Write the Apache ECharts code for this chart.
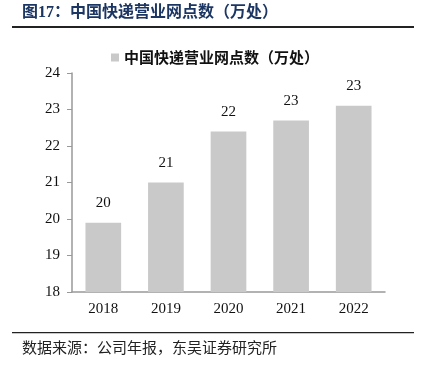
<!DOCTYPE html>
<html><head><meta charset="utf-8">
<script src="https://cdn.jsdelivr.net/npm/echarts@6/dist/echarts.min.js"></script>
<style>html,body{margin:0;padding:0;background:#fff}#c{width:423px;height:370px}</style>
</head><body><div id="c"></div>
<script>
const categories = ['2018','2019','2020','2021','2022'];
const values = [19.9, 21.0, 22.4, 22.7, 23.1];
const yTicks = [18, 19, 20, 21, 22, 23, 24];
const seriesName = '中国快递营业网点数（万处）';
const titleText = '图17：中国快递营业网点数（万处）';
const sourceText = '数据来源：公司年报，东吴证券研究所';

const chart = echarts.init(document.getElementById('c'));
chart.setOption({
  animation: false,
  backgroundColor: '#fff',
  graphic: [
    {type:'text', left: 22, top: 5, style:{text: titleText, font:'bold 16px "Liberation Serif","Noto Sans CJK SC"', fill:'#1c3663'}},
    {type:'rect', shape:{x:12, y:26, width:402, height:2}, style:{fill:'#222'}},
    {type:'rect', shape:{x:12, y:332, width:402, height:1.2}, style:{fill:'#222'}},
    {type:'text', left: 22, top: 340, style:{text: sourceText, font:'15px "Noto Sans CJK SC"', fill:'#222'}}
  ],
  legend: {
    data:[seriesName], top: 45, left: 106,
    icon:'rect', itemWidth: 8, itemHeight: 8, itemGap: 4,
    textStyle:{fontFamily:'"Noto Sans CJK SC"', fontSize:15, fontWeight:'bold', color:'#111'}
  },
  grid: {left: 72, right: 38, top: 73, bottom: 78},
  xAxis: {
    type:'category', data: categories,
    axisLine:{lineStyle:{color:'#999', width:1.5}},
    axisTick:{show:false},
    axisLabel:{fontFamily:'"Liberation Serif"', fontSize:15, color:'#111', margin:10}
  },
  yAxis: {
    type:'value', min: yTicks[0], max: yTicks[yTicks.length-1], interval: 1,
    axisLine:{show:true, lineStyle:{color:'#999', width:1.5}},
    axisTick:{show:true, length:5, lineStyle:{color:'#999'}},
    splitLine:{show:false},
    axisLabel:{fontFamily:'"Liberation Serif"', fontSize:15, color:'#111', margin:12}
  },
  series: [{
    name: seriesName, type:'bar', data: values, barWidth: '57%',
    itemStyle:{color:'#c9c9c9'},
    label:{show:true, position:'top', distance:12, fontFamily:'"Liberation Serif"', fontSize:15, color:'#111',
      formatter: p => Math.round(p.value)}
  }]
});
</script></body></html>
